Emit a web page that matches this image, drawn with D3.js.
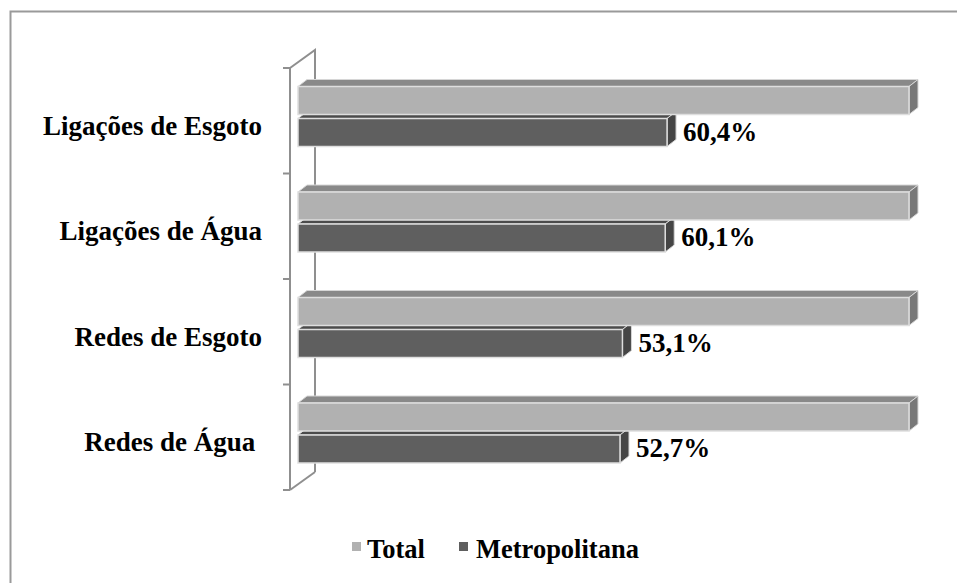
<!DOCTYPE html>
<html>
<head>
<meta charset="utf-8">
<script src="https://cdn.jsdelivr.net/npm/d3@7"></script>
<style>
  html, body { margin: 0; padding: 0; background: #fff; }
  svg { display: block; }
  text { font-family: "Liberation Serif", "Times New Roman", serif; font-weight: bold; fill: #000; }
</style>
</head>
<body>
<svg id="chart" width="957" height="583"></svg>
<script>
// Categories, top to bottom
const categories = ["Ligações de Esgoto", "Ligações de Água", "Redes de Esgoto", "Redes de Água"];
const seriesNames = ["Total", "Metropolitana"];
const totalValues = [100, 100, 100, 100];
const metroValues = [60.4, 60.1, 53.1, 52.7];
const metroLabels = ["60,4%", "60,1%", "53,1%", "52,7%"];

const W = 957, H = 583;
const svg = d3.select("#chart");

// Extruded bar look
const depth = { dx: 9, dy: 7 };
const palette = {
  Total: { front: "#b1b1b1", top: "#898989", side: "#787878" },
  Metropolitana: { front: "#5f5f5f", top: "#4b4b4b", side: "#454545" }
};

// Outer chart frame
svg.append("rect")
  .attr("x", 10.5).attr("y", 11.5)
  .attr("width", 1000).attr("height", 1000)
  .attr("fill", "none").attr("stroke", "#9a9a9a").attr("stroke-width", 2);

// Scales
const y = d3.scaleBand().domain(categories).range([68, 490]).padding(0);
const ySeries = d3.scaleBand().domain(seriesNames)
  .range([18.5, 78.5]).paddingInner(0.125).paddingOuter(0);
const x = d3.scaleLinear().domain([0, 100]).range([298, 909]);

// Side wall of the category axis (drawn in perspective)
const wallFront = 290, wallBack = 315, wallRise = 18;
const wall = svg.append("g").attr("fill", "none").attr("stroke", "#8f8f8f").attr("stroke-width", 2);
const yTop = y.range()[0], yBot = y.range()[1];
wall.append("path")
  .attr("d", `M${wallFront},${yTop} L${wallBack},${yTop - wallRise} L${wallBack},${yBot - wallRise}`)
  .attr("stroke-linejoin", "miter");
wall.append("path")
  .attr("d", `M${wallFront},${yBot} L${wallBack},${yBot - wallRise}`);

// Category axis with outward ticks and no labels (labels drawn separately)
const axisG = svg.append("g").attr("transform", `translate(${wallFront},0)`);
const tickYs = categories.map(c => y(c)).concat([yBot]);
axisG.append("line")
  .attr("x1", 0).attr("x2", 0).attr("y1", yTop).attr("y2", yBot)
  .attr("stroke", "#8f8f8f").attr("stroke-width", 2);
axisG.selectAll("line.tick").data(tickYs).join("line")
  .attr("class", "tick")
  .attr("x1", -7).attr("x2", 0)
  .attr("y1", d => d).attr("y2", d => d)
  .attr("stroke", "#8f8f8f").attr("stroke-width", 2);

// Category labels
svg.append("g").selectAll("text").data(categories).join("text")
  .attr("x", 262)
  .attr("y", c => y(c) + y.bandwidth() / 2 + 14)
  .attr("text-anchor", "end")
  .style("white-space", "pre")
  .attr("font-size", 27)
  .text(c => c === "Redes de Água" ? c + " " : c);

// Bars
const rows = categories.map((c, i) => ({
  cat: c,
  bars: [
    { s: "Metropolitana", v: metroValues[i], label: metroLabels[i] },
    { s: "Total", v: totalValues[i], label: null }
  ]
}));

function drawBar(g, cat, b) {
  const y0 = y(cat) + ySeries(b.s);
  const h = ySeries.bandwidth();
  const x0 = x(0), x1 = x(b.v);
  const c = palette[b.s];
  const { dx, dy } = depth;
  g.append("path")
    .attr("d", `M${x0},${y0} L${x0 + dx},${y0 - dy} L${x1 + dx},${y0 - dy} L${x1},${y0} Z`)
    .attr("fill", c.top).attr("stroke", "#d6d6d6").attr("stroke-width", 1);
  g.append("path")
    .attr("d", `M${x1},${y0} L${x1 + dx},${y0 - dy} L${x1 + dx},${y0 + h - dy} L${x1},${y0 + h} Z`)
    .attr("fill", c.side).attr("stroke", "#d6d6d6").attr("stroke-width", 1);
  g.append("rect")
    .attr("x", x0).attr("y", y0)
    .attr("width", x1 - x0).attr("height", h)
    .attr("fill", c.front).attr("stroke", "#dedede").attr("stroke-width", 1.5);
}

const barsG = svg.append("g");
rows.forEach(r => {
  r.bars.forEach(b => drawBar(barsG, r.cat, b));
});

// Value labels for Metropolitana
svg.append("g").selectAll("text").data(categories).join("text")
  .attr("x", (c, i) => x(metroValues[i]) + depth.dx + 7)
  .attr("y", c => y(c) + ySeries("Metropolitana") + ySeries.bandwidth() / 2 + 8)
  .attr("font-size", 27)
  .text((c, i) => metroLabels[i]);

// Legend
const legend = svg.append("g");
const legendItems = [
  { s: "Total", x: 352, tx: 367 },
  { s: "Metropolitana", x: 459, tx: 476 }
];
legendItems.forEach(it => {
  legend.append("rect")
    .attr("x", it.x).attr("y", 542).attr("width", 9).attr("height", 9)
    .attr("fill", palette[it.s].front);
  legend.append("text")
    .attr("x", it.tx).attr("y", 558)
    .attr("font-size", 26.5)
    .text(it.s);
});
</script>
</body>
</html>
